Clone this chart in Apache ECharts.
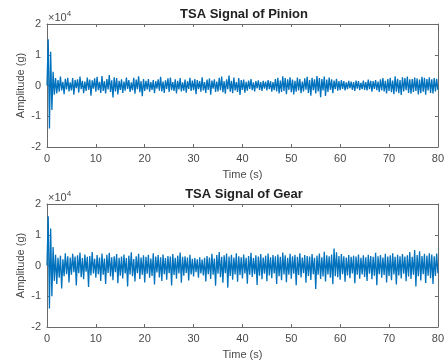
<!DOCTYPE html>
<html>
<head>
<meta charset="utf-8">
<script src="https://cdn.jsdelivr.net/npm/echarts@6/dist/echarts.min.js"></script>
<style>
  html, body { margin: 0; padding: 0; background: #fff; }
  #main { width: 447px; height: 364px; }
</style>
</head>
<body>
<div id="main"></div>
<script>
// sample step of the TSA record (s)
var dt = 0.25;

// pinion signal, in units of 1e3 g
var pinionK = [
  0, 15, -14, 11, -8, 4.5, -3, 2.4, -2.6, 1.8, -2.0, 2.9, -1.6, 1.2, -2.8, 2.2, -1.3, 2.5, -1.9, 1.0,
  -1.6, 2.4, -3.0, 1.8, -0.9, 2.0, -2.3, 2.9, -1.2, 1.5, -2.5, 1.3, -1.8, 2.6, -1.4, 1.9, -3.3, 1.7, -1.0, 2.3,
  -2.0, 2.8, -1.5, 1.2, -2.4, 3.1, -1.8, 1.4, -2.6, 2.1, -1.3, 3.4, -2.1, 1.7, -3.9, 2.7, -1.9, 2.4, -2.9, 1.5,
  -1.4, 2.0, -2.4, 1.3, -1.7, 2.6, -1.1, 1.8, -2.1, 1.0, -1.5, 2.5, -2.7, 1.9, -1.2, 3.0, -2.2, 1.4, -3.5, 2.1,
  -1.8, 1.5, -1.3, 2.1, -2.0, 1.1, -1.4, 1.8, -2.5, 1.4, -1.0, 2.0, -1.7, 2.8, -1.9, 1.3, -2.4, 1.7, -1.1, 2.3,
  -2.1, 2.6, -1.5, 1.1, -1.8, 2.0, -2.6, 1.5, -1.3, 2.4, -1.9, 1.0, -1.7, 1.9, -2.3, 1.4, -1.1, 2.5, -1.8, 1.6,
  -1.5, 2.1, -2.8, 1.8, -1.2, 1.4, -2.0, 2.7, -1.6, 1.1, -2.4, 1.9, -1.4, 2.3, -3.0, 1.6, -1.0, 2.0, -2.1, 1.3,
  -1.9, 2.5, -1.5, 2.9, -2.2, 1.4, -2.7, 2.0, -1.2, 3.2, -2.0, 1.5, -2.5, 2.6, -1.6, 1.1, -2.1, 2.4, -3.1, 1.8,
  -1.4, 1.9, -2.3, 1.2, -1.7, 1.6, -1.1, 2.1, -1.5, 1.0, -1.9, 1.4, -0.9, 1.7, -1.4, 1.1, -1.8, 1.5, -1.0, 1.3,
  -1.6, 1.8, -1.2, 1.4, -2.0, 1.1, -1.5, 2.1, -1.9, 2.5, -2.6, 1.6, -2.1, 3.0, -1.8, 2.4, -2.8, 2.0, -1.4, 2.7,
  -2.2, 1.9, -2.9, 1.5, -2.0, 2.6, -1.6, 2.1, -2.5, 1.3, -1.9, 2.3, -1.4, 2.8, -2.4, 1.8, -3.3, 2.5, -1.5, 2.0,
  -2.6, 3.1, -1.9, 2.4, -3.8, 2.1, -1.6, 2.9, -3.4, 1.9, -2.1, 2.6, -1.4, 2.0, -2.5, 1.6, -1.2, 2.2, -1.7, 1.4,
  -1.5, 1.8, -1.1, 1.4, -1.6, 1.0, -1.2, 1.5, -0.9, 1.3, -1.4, 1.1, -1.8, 1.6, -1.0, 1.4, -1.5, 0.9, -1.2, 1.6,
  -1.4, 1.1, -1.6, 1.9, -1.2, 1.5, -2.0, 1.4, -1.1, 1.8, -1.5, 1.3, -2.1, 2.0, -1.6, 2.4, -1.9, 1.5, -2.6, 2.1,
  -1.8, 2.5, -2.2, 1.6, -2.8, 3.0, -2.0, 2.2, -2.5, 1.8, -3.1, 2.7, -1.9, 2.4, -1.5, 2.9, -2.4, 2.0, -2.7, 2.1,
  -2.1, 2.6, -1.8, 2.3, -2.9, 1.9, -2.5, 2.8, -2.0, 2.5, -3.0, 2.1, -1.6, 2.7, -2.4, 2.0, -2.6, 2.4, -1.9, 2.2,
  -1.4
];

// gear signal, in units of 1e3 g
var gearK = [
  0, 16, -14, 12, -10, 6, -5, 3.5, -6, 2.5, -4, 3.2, -7.5, 2.0, -3.5, 4.0, -2.8, 3.0, -5.5, 2.6,
  -3.0, 3.8, -2.2, 2.9, -6.5, 3.3, -2.5, 4.2, -3.8, 2.4, -4.5, 3.6, -2.0, 2.8, -7.0, 3.1, -3.2, 4.4, -2.6, 2.2,
  -4.0, 3.4, -2.8, 2.6, -5.0, 3.9, -3.0, 2.3, -6.0, 3.5, -2.4, 4.1, -3.6, 2.7, -4.8, 3.0, -2.2, 3.7, -5.8, 2.5,
  -3.3, 2.9, -4.2, 3.6, -2.6, 2.4, -6.8, 3.2, -2.9, 4.3, -3.5, 2.1, -5.2, 3.0, -2.5, 3.8, -4.4, 2.6, -3.0, 3.3,
  -5.5, 2.8, -2.7, 3.5, -4.0, 2.3, -3.4, 4.0, -6.2, 2.9, -2.3, 3.4, -3.9, 2.7, -5.0, 3.6, -2.8, 2.4, -4.6, 3.1,
  -2.5, 2.9, -6.5, 3.7, -3.1, 2.5, -4.3, 3.2, -2.6, 4.2, -5.6, 2.8, -3.3, 3.0, -2.4, 2.6, -4.9, 3.5, -2.9, 2.2,
  -3.6, 2.4, -2.2, 2.0, -4.0, 2.7, -2.6, 1.9, -3.2, 2.5, -5.2, 3.1, -2.8, 2.6, -4.4, 3.8, -3.0, 2.3, -6.6, 3.4,
  -2.7, 4.4, -3.8, 2.8, -5.6, 3.3, -2.5, 3.9, -7.2, 2.9, -3.4, 3.5, -4.6, 2.6, -2.9, 4.0, -5.3, 3.0, -3.1, 2.7,
  -4.2, 3.6, -2.6, 2.5, -5.9, 3.1, -3.0, 4.1, -3.7, 2.4, -2.8, 3.3, -6.3, 2.9, -3.3, 3.7, -4.5, 2.6, -2.7, 3.2,
  -5.1, 3.9, -3.2, 2.7, -4.1, 3.4, -2.6, 3.0, -6.0, 3.6, -3.5, 2.8, -4.8, 4.2, -2.9, 3.3, -5.4, 2.5, -3.0, 3.8,
  -4.3, 3.0, -2.7, 3.5, -6.4, 2.8, -3.1, 4.0, -3.9, 2.6, -2.5, 3.4, -5.6, 3.1, -3.4, 2.9, -4.7, 3.7, -2.8, 2.5,
  -7.6, 3.2, -3.0, 3.9, -4.4, 2.7, -3.6, 4.5, -5.2, 3.3, -2.9, 3.0, -4.0, 3.6, -6.1, 5.5, -3.5, 4.3, -3.8, 3.1,
  -4.6, 3.7, -2.8, 3.0, -5.3, 2.6, -3.2, 3.4, -4.1, 2.8, -2.6, 3.2, -5.8, 2.9, -3.0, 3.6, -4.3, 2.5, -2.9, 3.3,
  -3.7, 2.7, -5.0, 3.5, -2.7, 3.1, -4.5, 2.8, -3.3, 4.1, -6.4, 3.0, -2.8, 3.4, -4.0, 2.6, -3.1, 3.8, -5.5, 2.9,
  -3.4, 3.3, -4.8, 4.0, -2.9, 2.8, -6.2, 3.5, -3.2, 3.0, -4.2, 3.7, -2.7, 2.9, -5.1, 3.3, -3.6, 4.4, -4.4, 2.8,
  -3.0, 5.0, -6.8, 3.4, -3.5, 4.6, -4.9, 3.1, -2.8, 3.8, -5.7, 3.2, -3.3, 4.0, -4.1, 3.6, -6.0, 3.0, -3.4, 3.9,
  -2.5
];

var titles = ['TSA Signal of Pinion', 'TSA Signal of Gear'];
var xTicks = [0, 10, 20, 30, 40, 50, 60, 70, 80];
var yTicks = [-2, -1, 0, 1, 2]; // x 10^4

function toPairs(arr) {
  var out = [];
  for (var i = 0; i < arr.length; i++) {
    out.push([i * dt, arr[i] * 1000]);
  }
  return out;
}

var axisColor = '#6a6a6a';
var labelColor = '#4a4a4a';
var fontFam = 'Liberation Sans, Arial, sans-serif';

var grids = [
  { left: 47, right: 8, top: 24, height: 123 },
  { left: 47, right: 8, top: 204, height: 123 }
];

var xAxes = [], yAxes = [], series = [], graphics = [];
[0, 1].forEach(function (g) {
  // bottom x axis with labels
  xAxes.push({
    gridIndex: g, type: 'value', position: 'bottom',
    min: xTicks[0], max: xTicks[xTicks.length - 1], interval: 10,
    name: 'Time (s)', nameLocation: 'middle', nameGap: 22, nameMoveOverlap: false,
    nameTextStyle: { color: labelColor, fontSize: 11, fontFamily: fontFam },
    axisLine: { onZero: false, lineStyle: { color: axisColor, width: 1 } },
    axisTick: { inside: true, length: 3, lineStyle: { color: axisColor } },
    axisLabel: { color: labelColor, fontSize: 11, fontFamily: fontFam, margin: 6 },
    splitLine: { show: false }
  });
  // top edge of the box
  xAxes.push({
    gridIndex: g, type: 'value', position: 'top',
    min: xTicks[0], max: xTicks[xTicks.length - 1], interval: 10,
    axisLine: { onZero: false, lineStyle: { color: axisColor, width: 1 } },
    axisTick: { inside: true, length: 3, lineStyle: { color: axisColor } },
    axisLabel: { show: false }, splitLine: { show: false }
  });
  yAxes.push({
    gridIndex: g, type: 'value', position: 'left',
    min: yTicks[0] * 10000, max: yTicks[yTicks.length - 1] * 10000, interval: 10000,
    name: 'Amplitude (g)', nameLocation: 'middle', nameGap: 21, nameMoveOverlap: false,
    nameTextStyle: { color: labelColor, fontSize: 11, fontFamily: fontFam },
    axisLine: { show: true, onZero: false, lineStyle: { color: axisColor, width: 1 } },
    axisTick: { show: true, inside: true, length: 3, lineStyle: { color: axisColor } },
    axisLabel: { color: labelColor, fontSize: 11, fontFamily: fontFam, margin: 6,
      formatter: function (v) { return String(v / 10000); } },
    splitLine: { show: false }
  });
  // right edge of the box
  yAxes.push({
    gridIndex: g, type: 'value', position: 'right',
    min: yTicks[0] * 10000, max: yTicks[yTicks.length - 1] * 10000, interval: 10000,
    axisLine: { show: true, onZero: false, lineStyle: { color: axisColor, width: 1 } },
    axisTick: { show: true, inside: true, length: 3, lineStyle: { color: axisColor } },
    axisLabel: { show: false }, splitLine: { show: false }
  });
  series.push({
    type: 'line', xAxisIndex: g * 2, yAxisIndex: g * 2,
    data: toPairs(g === 0 ? pinionK : gearK),
    showSymbol: false, sampling: null,
    lineStyle: { color: '#0072BD', width: 1.3 }
  });
  var top = grids[g].top;
  graphics.push({
    type: 'text', x: 244, y: top - 10,
    style: { text: titles[g], font: 'bold 13px ' + fontFam, fill: '#222',
      textAlign: 'center', textVerticalAlign: 'middle' }
  });
  graphics.push({
    type: 'text', x: 48, y: top - 14,
    style: {
      text: '{a|\u00d710}{b|4}',
      rich: {
        a: { fontSize: 11, fontFamily: fontFam, fill: labelColor, color: labelColor },
        b: { fontSize: 8, fontFamily: fontFam, fill: labelColor, color: labelColor, padding: [0, 0, 7, 0] }
      }
    }
  });
});

var chart = echarts.init(document.getElementById('main'));
chart.setOption({
  animation: false,
  backgroundColor: '#fff',
  grid: grids,
  xAxis: xAxes,
  yAxis: yAxes,
  series: series,
  graphic: graphics
});
</script>
</body>
</html>
